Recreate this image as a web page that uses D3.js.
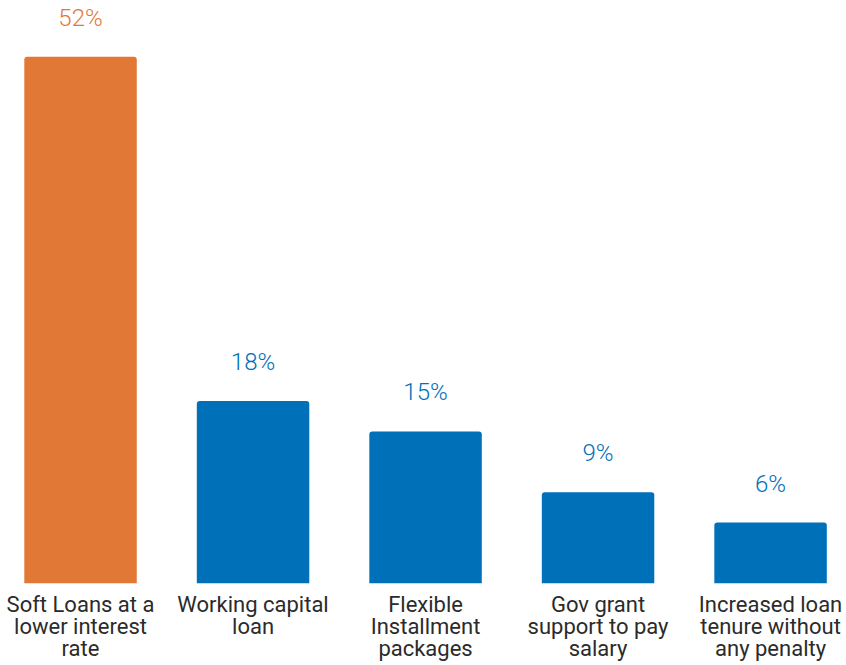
<!DOCTYPE html>
<html>
<head>
<meta charset="utf-8">
<script src="https://cdn.jsdelivr.net/npm/d3@7"></script>
<style>
  html, body { margin: 0; padding: 0; background: #fff; }
  svg { display: block; }
  text { font-family: Roboto, "Noto Sans", sans-serif; }
</style>
</head>
<body>
<svg id="chart" width="846" height="665"></svg>
<script>
// Support measures requested by businesses (share of respondents)
const categories = [
  "Soft Loans at a lower interest rate",
  "Working capital loan",
  "Flexible Installment packages",
  "Gov grant support to pay salary",
  "Increased loan tenure without any penalty"
];
const categoryLines = [
  ["Soft Loans at a", "lower interest", "rate"],
  ["Working capital", "loan"],
  ["Flexible", "Installment", "packages"],
  ["Gov grant", "support to pay", "salary"],
  ["Increased loan", "tenure without", "any penalty"]
];
const values = [52, 18, 15, 9, 6];
const highlight = [true, false, false, false, false];

const ORANGE = "#E27836";
const BLUE = "#0070B9";

const svg = d3.select("#chart");

const x = d3.scaleBand()
  .domain(categories)
  .range([24.3, 826.8])
  .paddingInner(0.348)
  .paddingOuter(0);

const y = d3.scaleLinear()
  .domain([0, 52])
  .range([583.3, 56.7]);

const data = categories.map((c, i) => ({
  cat: c, value: values[i], lines: categoryLines[i], hi: highlight[i]
}));

// bar with slightly rounded top corners
function barPath(d) {
  const x0 = x(d.cat), w = x.bandwidth();
  const y0 = y(d.value), y1 = y(0), r = 3;
  return `M${x0},${y1}V${y0 + r}Q${x0},${y0} ${x0 + r},${y0}` +
         `H${x0 + w - r}Q${x0 + w},${y0} ${x0 + w},${y0 + r}V${y1}Z`;
}

svg.selectAll("path.bar")
  .data(data)
  .join("path")
  .attr("class", "bar")
  .attr("d", barPath)
  .attr("fill", d => d.hi ? ORANGE : BLUE);

// value labels above bars
svg.selectAll("text.value")
  .data(data)
  .join("text")
  .attr("class", "value")
  .attr("x", d => x(d.cat) + x.bandwidth() / 2)
  .attr("y", d => y(d.value) - 31)
  .attr("text-anchor", "middle")
  .attr("font-size", 24)
  .attr("font-weight", 300)
  .attr("fill", d => d.hi ? ORANGE : BLUE)
  .text(d => d.value + "%");

// category labels under the bars
const cat = svg.selectAll("text.cat")
  .data(data)
  .join("text")
  .attr("class", "cat")
  .attr("text-anchor", "middle")
  .attr("font-size", 22)
  .attr("fill", "#2b2b2b");

cat.selectAll("tspan")
  .data(d => d.lines.map(l => ({ l, cx: x(d.cat) + x.bandwidth() / 2 })))
  .join("tspan")
  .attr("x", t => t.cx)
  .attr("y", (t, i) => y(0) + 29 + i * 21.7)
  .text(t => t.l);
</script>
</body>
</html>
